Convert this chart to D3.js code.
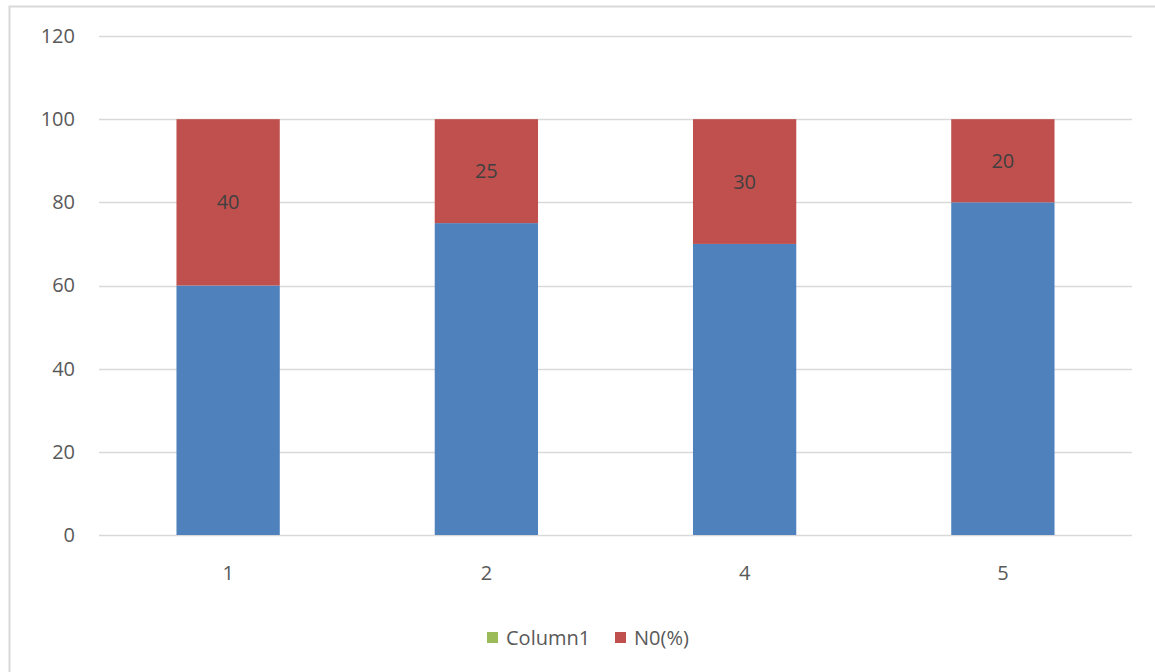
<!DOCTYPE html>
<html>
<head>
<meta charset="utf-8">
<script src="https://cdn.jsdelivr.net/npm/d3@7"></script>
<style>
  body { margin: 0; background: #fff; }
  text { font-family: "Open Sans", "Noto Sans", sans-serif; }
</style>
</head>
<body>
<div id="chart"></div>
<script>
const width = 1155;
const height = 672;
const margin = { top: 36, right: 23, bottom: 137, left: 99 };

const categories = ["1", "2", "4", "5"];
const bottomValues = [60, 75, 70, 80];   // blue series, no legend entry
const topValues = [40, 25, 30, 20];      // N0(%)
const yTicks = [0, 20, 40, 60, 80, 100, 120];
const legendItems = ["Column1", "N0(%)"];
const legendColors = ["#9bbb59", "#c0504d"];

const fontSize = 20;

const svg = d3.select("#chart")
    .append("svg")
    .attr("width", width)
    .attr("height", height);

// outer chart border (right and bottom edges fall outside the picture)
svg.append("rect")
    .attr("x", 9.5)
    .attr("y", 6.5)
    .attr("width", width)
    .attr("height", height)
    .attr("fill", "none")
    .attr("stroke", "#d9d9d9")
    .attr("stroke-width", 2);

const x = d3.scaleBand()
    .domain(categories)
    .range([margin.left, width - margin.right])
    .paddingInner(0.6)
    .paddingOuter(0.3);

const y = d3.scaleLinear()
    .domain([0, 120])
    .range([height - margin.bottom, margin.top]);

// gridlines
svg.append("g")
    .selectAll("line")
    .data(yTicks)
    .join("line")
    .attr("x1", margin.left)
    .attr("x2", width - margin.right)
    .attr("y1", d => Math.round(y(d)) + 0.5)
    .attr("y2", d => Math.round(y(d)) + 0.5)
    .attr("stroke", "#d9d9d9")
    .attr("stroke-width", 1.3);

// y axis labels
const yAxis = d3.axisLeft(y).tickValues(yTicks).tickSize(0).tickPadding(24);
svg.append("g")
    .attr("transform", `translate(${margin.left},0)`)
    .call(yAxis)
    .call(g => g.select(".domain").remove())
    .selectAll("text")
    .attr("font-size", fontSize)
    .attr("fill", "#595959")
    .style("font-family", "'Open Sans', sans-serif");

// x axis labels
const xAxis = d3.axisBottom(x).tickSize(0).tickPadding(31);
svg.append("g")
    .attr("transform", `translate(0,${y(0)})`)
    .call(xAxis)
    .call(g => g.select(".domain").remove())
    .selectAll("text")
    .attr("font-size", fontSize)
    .attr("fill", "#595959")
    .style("font-family", "'Open Sans', sans-serif");

// bars
const rows = categories.map((c, i) => ({ cat: c, low: bottomValues[i], high: topValues[i] }));

svg.append("g")
    .selectAll("rect")
    .data(rows)
    .join("rect")
    .attr("x", d => x(d.cat))
    .attr("width", x.bandwidth())
    .attr("y", d => y(d.low))
    .attr("height", d => y(0) - y(d.low))
    .attr("fill", "#4f81bd");

svg.append("g")
    .selectAll("rect")
    .data(rows)
    .join("rect")
    .attr("x", d => x(d.cat))
    .attr("width", x.bandwidth())
    .attr("y", d => y(d.low + d.high))
    .attr("height", d => y(d.low) - y(d.low + d.high))
    .attr("fill", "#c0504d");

// data labels on the red segments
svg.append("g")
    .selectAll("text")
    .data(rows)
    .join("text")
    .attr("x", d => x(d.cat) + x.bandwidth() / 2)
    .attr("y", d => y(d.low + d.high / 2))
    .attr("dy", "0.35em")
    .attr("text-anchor", "middle")
    .attr("font-size", fontSize)
    .attr("fill", "#404040")
    .text(d => d.high);

// legend
const legend = svg.append("g").attr("transform", "translate(487,638)");
const offsets = [0, 128];
legendItems.forEach((name, i) => {
    const g = legend.append("g").attr("transform", `translate(${offsets[i]},0)`);
    g.append("rect")
        .attr("x", 0)
        .attr("y", -6)
        .attr("width", 11)
        .attr("height", 11)
        .attr("fill", legendColors[i]);
    g.append("text")
        .attr("x", 19)
        .attr("y", 0)
        .attr("dy", "0.35em")
        .attr("font-size", fontSize)
        .attr("fill", "#595959")
        .text(name);
});
</script>
</body>
</html>
